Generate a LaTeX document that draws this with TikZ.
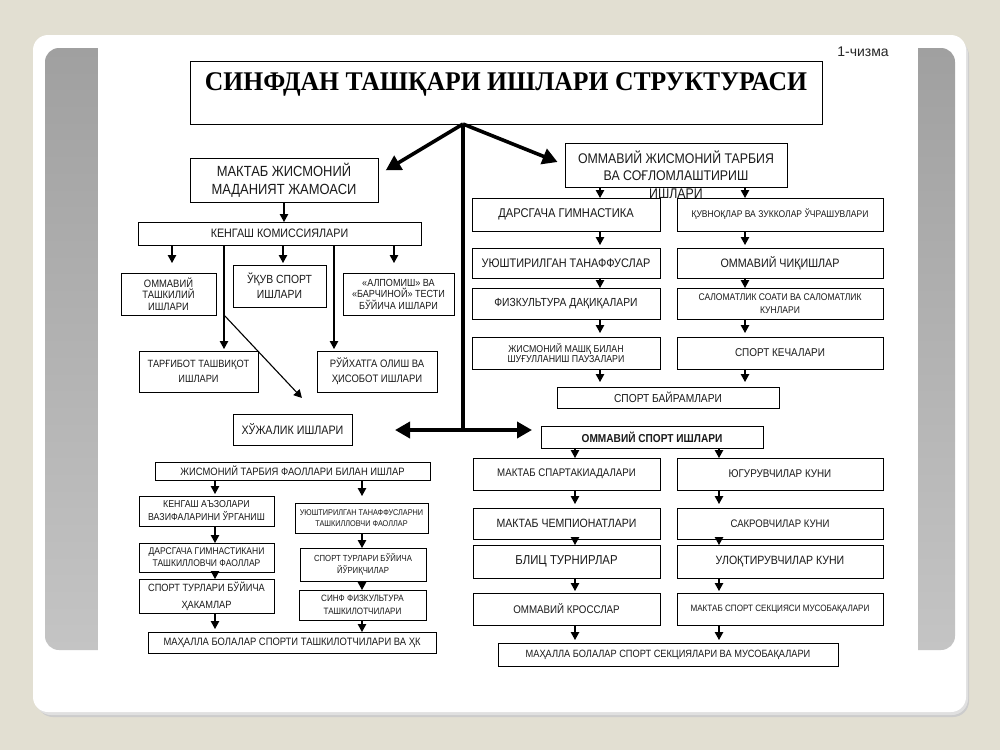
\documentclass[tikz,border=0pt]{standalone}
\usepackage{fontspec}
\setmainfont{Liberation Serif}
\newfontfamily\titlef[FakeStretch=0.95]{Liberation Serif}
\newfontfamily\boxf[FakeStretch=0.88]{Liberation Sans}
\newfontfamily\capf{Liberation Sans}
\usetikzlibrary{arrows.meta}
\definecolor{bgc}{HTML}{E2DFD2}
\definecolor{stripT}{HTML}{A0A0A0}
\definecolor{stripB}{HTML}{C4C4C4}
\definecolor{txt}{HTML}{1A1A1A}
\newcommand\bx[6][]{\node[box,#1,minimum width={#5-#3},minimum height={#6-#4}] (#2) at ({(#3+#5)/2},{(#4+#6)/2})}
\tikzset{
  box/.style={draw=black, line width=1pt, inner sep=1pt, outer sep=0pt, align=center, text=txt},
  fs/.style 2 args={font=\boxf\fontsize{#1}{#2}\selectfont},
  arr/.style={line width=1.1pt, -{Triangle[length=8pt,width=8.5pt]}},
  bigarr/.style={line width=3.6pt, -{Triangle[length=15pt,width=16pt]}},
  bigline/.style={line width=3.6pt},
}
\begin{document}
\begin{tikzpicture}[x=1pt,y=-1pt]
\useasboundingbox (0,0) rectangle (1000,750);
\fill[bgc] (0,0) rectangle (1000,750);
% panel with shadow
\fill[black!20, rounded corners=16] (37,40) rectangle (969,717);
\fill[black!12, rounded corners=16] (35,38) rectangle (968,715);
\fill[white, rounded corners=15] (33,35) rectangle (966,712);
% grey strips
\shade[top color=stripT, bottom color=stripB, rounded corners=14] (45,48) rectangle (955,650);
\fill[white] (98,47) rectangle (918,651);
\node[font=\capf\fontsize{14}{16}\selectfont, text=black!85] (chz) at (863,52) {1-чизма};

% title
\bx{title}{190}{61}{822}{124} {};
\node[font=\titlef\bfseries\fontsize{27}{30}\selectfont] (titlet) at (506,84) {СИНФДАН ТАШҚАРИ ИШЛАРИ СТРУКТУРАСИ};
\coordinate (hub) at (463,124);
\coordinate (junc) at (463,430);

% left branch
\bx[fs={14.7}{18}]{mjm}{190}{158}{378}{202} {МАКТАБ ЖИСМОНИЙ\\МАДАНИЯТ ЖАМОАСИ};
\bx[fs={12.2}{14}]{kk}{138}{222}{421}{245} {КЕНГАШ КОМИССИЯЛАРИ};
\bx[fs={10.7}{11.5}]{ot}{121}{273}{216}{315} {ОММАВИЙ\\ТАШКИЛИЙ\\ИШЛАРИ};
\bx[fs={11.8}{15}]{us}{233}{265}{326}{307} {ЎҚУВ СПОРТ\\ИШЛАРИ};
\bx[fs={10.3}{11.5}]{ab}{343}{273}{454}{315} {«АЛПОМИШ» ВА\\«БАРЧИНОЙ» ТЕСТИ\\БЎЙИЧА ИШЛАРИ};
\bx[fs={10.5}{15}]{tt}{139}{351}{258}{392} {ТАРҒИБОТ ТАШВИҚОТ\\ИШЛАРИ};
\bx[fs={10.8}{15}]{ro}{317}{351}{437}{392} {РЎЙХАТГА ОЛИШ ВА\\ҲИСОБОТ ИШЛАРИ};
\bx[fs={12.2}{14}]{hi}{233}{414}{352}{445} {ХЎЖАЛИК ИШЛАРИ};
\bx[fs={10.7}{12}]{jt}{155}{462}{430}{480} {ЖИСМОНИЙ ТАРБИЯ ФАОЛЛАРИ БИЛАН ИШЛАР};
\bx[fs={10}{13}]{ka}{139}{496}{274}{526} {КЕНГАШ АЪЗОЛАРИ\\ВАЗИФАЛАРИНИ ЎРГАНИШ};
\bx[fs={8.3}{11}]{ut}{295}{503}{428}{533} {УЮШТИРИЛГАН ТАНАФФУСЛАРНИ\\ТАШКИЛЛОВЧИ ФАОЛЛАР};
\bx[fs={9.7}{12}]{dg}{139}{543}{274}{572} {ДАРСГАЧА ГИМНАСТИКАНИ\\ТАШКИЛЛОВЧИ ФАОЛЛАР};
\bx[fs={8.8}{11.5}]{sy}{300}{548}{426}{581} {СПОРТ ТУРЛАРИ БЎЙИЧА\\ЙЎРИҚЧИЛАР};
\bx[fs={10.5}{17}]{sh}{139}{579}{274}{613} {СПОРТ ТУРЛАРИ БЎЙИЧА\\ҲАКАМЛАР};
\bx[fs={9.2}{13}]{sf}{299}{590}{426}{620} {СИНФ ФИЗКУЛЬТУРА\\ТАШКИЛОТЧИЛАРИ};
\bx[fs={10.7}{12}]{mb}{148}{632}{436}{653} {МАҲАЛЛА БОЛАЛАР СПОРТИ ТАШКИЛОТЧИЛАРИ ВА ҲК};

% right branch
\bx{ojt}{565}{143}{787}{187} {};
\node[fs={14}{17.5}, align=center, anchor=north, text=txt] (ojtt) at (676,147) {ОММАВИЙ ЖИСМОНИЙ ТАРБИЯ\\ВА СОҒЛОМЛАШТИРИШ\\ИШЛАРИ};
\bx[fs={12.7}{14}]{dga}{472}{198}{660}{231} {ДАРСГАЧА ГИМНАСТИКА};
\bx[fs={9.7}{11}]{qz}{677}{198}{883}{231} {ҚУВНОҚЛАР ВА ЗУККОЛАР ЎЧРАШУВЛАРИ};
\bx[fs={12.4}{14}]{uta}{472}{248}{660}{278} {УЮШТИРИЛГАН ТАНАФФУСЛАР};
\bx[fs={12.2}{14}]{oc}{677}{248}{883}{278} {ОММАВИЙ ЧИҚИШЛАР};
\bx[fs={11.7}{14}]{fd}{472}{288}{660}{319} {ФИЗКУЛЬТУРА ДАҚИҚАЛАРИ};
\bx[fs={9.7}{12.5}]{ss}{677}{288}{883}{319} {САЛОМАТЛИК СОАТИ ВА САЛОМАТЛИК\\КУНЛАРИ};
\bx[fs={10}{10.5}]{jm}{472}{337}{660}{369} {ЖИСМОНИЙ МАШҚ БИЛАН\\ШУҒУЛЛАНИШ ПАУЗАЛАРИ};
\bx[fs={11.3}{14}]{sk}{677}{337}{883}{369} {СПОРТ КЕЧАЛАРИ};
\bx[fs={11.6}{13}]{sb}{557}{387}{779}{408} {СПОРТ БАЙРАМЛАРИ};
\bx[font=\boxf\bfseries\fontsize{11.5}{13}\selectfont]{osi}{541}{426}{763}{448} {ОММАВИЙ СПОРТ ИШЛАРИ};
\bx[fs={11}{13}]{msp}{473}{458}{660}{490} {МАКТАБ СПАРТАКИАДАЛАРИ};
\bx[fs={11.2}{13}]{yk}{677}{458}{883}{490} {ЮГУРУВЧИЛАР КУНИ};
\bx[fs={12}{13}]{mch}{473}{508}{660}{539} {МАКТАБ ЧЕМПИОНАТЛАРИ};
\bx[fs={10.9}{13}]{sak}{677}{508}{883}{539} {САКРОВЧИЛАР КУНИ};
\bx[fs={12.9}{14}]{bt}{473}{545}{660}{578} {БЛИЦ ТУРНИРЛАР};
\bx[fs={12}{13}]{uk}{677}{545}{883}{578} {УЛОҚТИРУВЧИЛАР КУНИ};
\bx[fs={11.1}{13}]{ok}{473}{593}{660}{625} {ОММАВИЙ КРОССЛАР};
\bx[fs={9.2}{11}]{mss}{677}{593}{883}{625} {МАКТАБ СПОРТ СЕКЦИЯСИ МУСОБАҚАЛАРИ};
\bx[fs={10.5}{12}]{mbs}{498}{643}{838}{666} {МАҲАЛЛА БОЛАЛАР СПОРТ СЕКЦИЯЛАРИ ВА МУСОБАҚАЛАРИ};

% big connectors
\draw[bigarr, shorten >=9pt] (hub) -- (mjm.east |- 0,175);
\draw[bigarr, shorten >=8pt] (hub) -- (ojt.west);
\draw[bigline] (hub) -- (junc);
\draw[bigarr, shorten >=43pt] (junc) -- (junc -| hi.east);
\draw[bigarr, shorten >=9pt] (junc) -- (junc -| osi.west);

% left small connectors
\draw[arr] (mjm.south) -- (kk.north -| mjm.south);
\draw[arr, shorten >=10pt] (kk.south -| 172,0) -- (ot.north -| 172,0);
\draw[arr, shorten >=2pt] (kk.south -| 283,0) -- (us.north -| 283,0);
\draw[arr, shorten >=10pt] (kk.south -| 394,0) -- (ab.north -| 394,0);
\draw[arr, shorten >=2pt] (kk.south -| 224,0) -- (tt.north -| 224,0);
\draw[arr, shorten >=2pt] (kk.south -| 334,0) -- (ro.north -| 334,0);
\coordinate (d0) at (224,315);
\draw[arr, shorten >=22pt] (d0) -- (hi.north -| 317,0);

\draw[arr, shorten >=2pt] (jt.south -| 215,0) -- (ka.north -| 215,0);
\draw[arr, shorten >=7pt] (jt.south -| 362,0) -- (ut.north -| 362,0);
\draw[arr] (ka.south -| 215,0) -- (dg.north -| 215,0);
\draw[arr] (ut.south -| 362,0) -- (sy.north -| 362,0);
\draw[arr] (dg.south -| 215,0) -- (sh.north -| 215,0);
\draw[arr] (sy.south -| 362,0) -- (sf.north -| 362,0);
\draw[arr, shorten >=3pt] (sh.south -| 215,0) -- (mb.north -| 215,0);
\draw[arr] (sf.south -| 362,0) -- (mb.north -| 362,0);

% right small connectors
\draw[arr] (ojt.south -| 600,0) -- (dga.north -| 600,0);
\draw[arr] (ojt.south -| 745,0) -- (qz.north -| 745,0);
\draw[arr, shorten >=3pt] (dga.south -| 600,0) -- (uta.north -| 600,0);
\draw[arr, shorten >=3pt] (qz.south -| 745,0) -- (oc.north -| 745,0);
\draw[arr] (uta.south -| 600,0) -- (fd.north -| 600,0);
\draw[arr] (oc.south -| 745,0) -- (ss.north -| 745,0);
\draw[arr, shorten >=4pt] (fd.south -| 600,0) -- (jm.north -| 600,0);
\draw[arr, shorten >=4pt] (ss.south -| 745,0) -- (sk.north -| 745,0);
\draw[arr, shorten >=5pt] (jm.south -| 600,0) -- (sb.north -| 600,0);
\draw[arr, shorten >=5pt] (sk.south -| 745,0) -- (sb.north -| 745,0);

\draw[arr] (osi.south -| 575,0) -- (msp.north -| 575,0);
\draw[arr] (osi.south -| 719,0) -- (yk.north -| 719,0);
\draw[arr, shorten >=4pt] (msp.south -| 575,0) -- (mch.north -| 575,0);
\draw[arr, shorten >=4pt] (yk.south -| 719,0) -- (sak.north -| 719,0);
\draw[arr] (mch.south -| 575,0) -- (bt.north -| 575,0);
\draw[arr] (sak.south -| 719,0) -- (uk.north -| 719,0);
\draw[arr, shorten >=2pt] (bt.south -| 575,0) -- (ok.north -| 575,0);
\draw[arr, shorten >=2pt] (uk.south -| 719,0) -- (mss.north -| 719,0);
\draw[arr, shorten >=3pt] (ok.south -| 575,0) -- (mbs.north -| 575,0);
\draw[arr, shorten >=3pt] (mss.south -| 719,0) -- (mbs.north -| 719,0);
\end{tikzpicture}
\end{document}
